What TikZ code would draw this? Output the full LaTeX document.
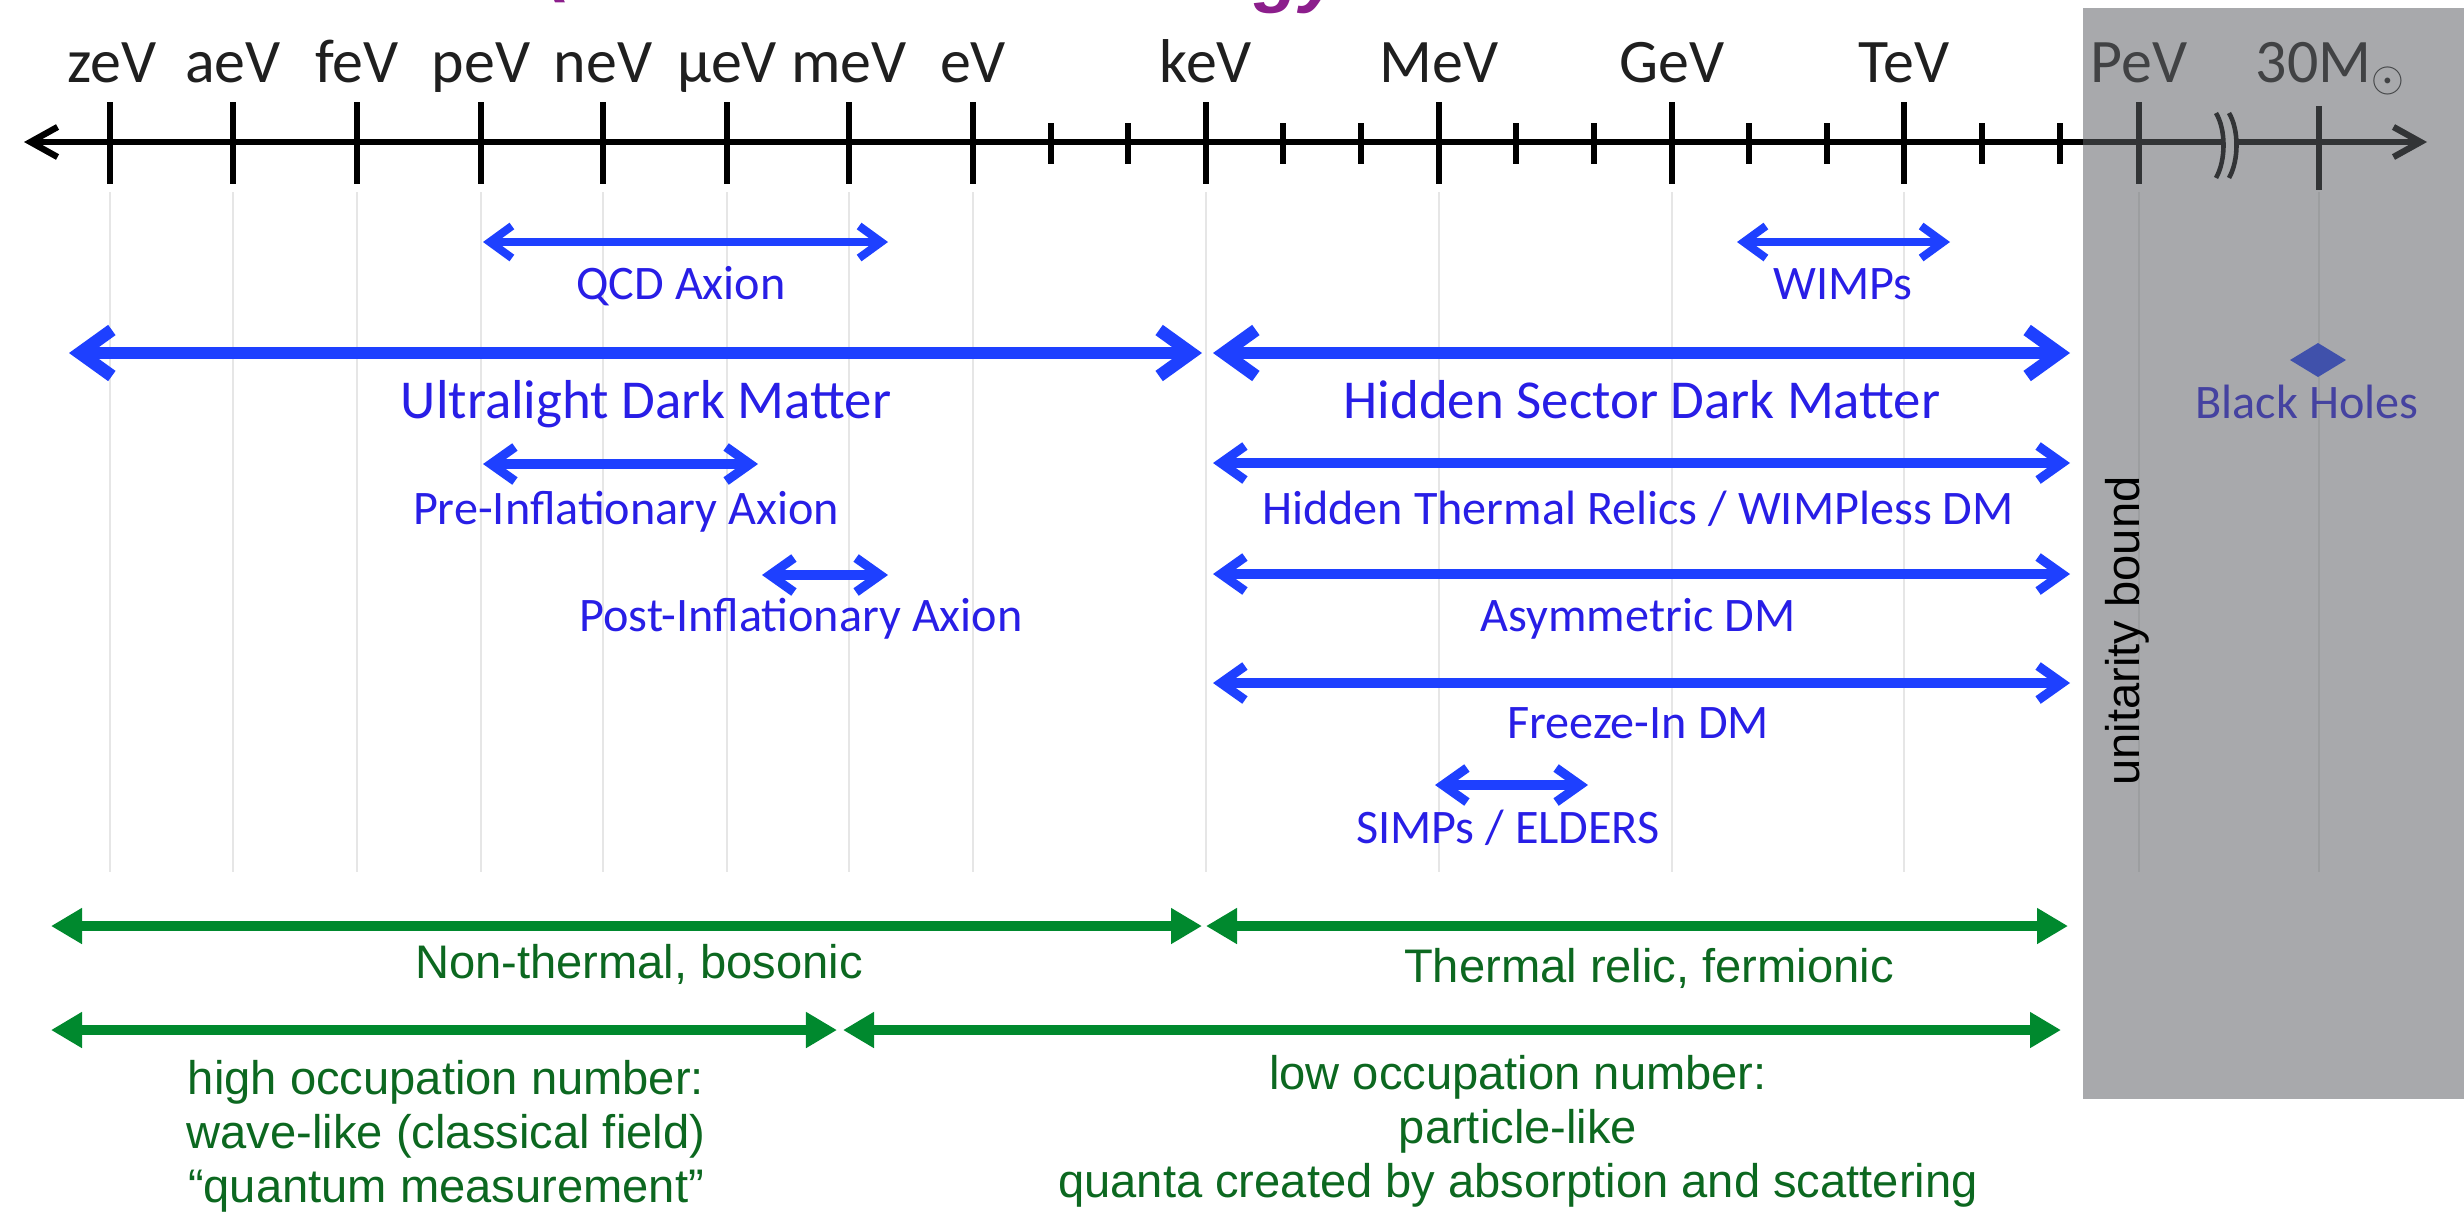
\documentclass[tikz,border=0pt]{standalone}
\usepackage{fontspec}
\setmainfont{Carlito}
\newfontfamily\arialf{Liberation Sans}
\usetikzlibrary{arrows.meta}
\definecolor{blarrow}{RGB}{30,64,255}
\definecolor{bltext}{RGB}{40,30,230}
\definecolor{grarrow}{RGB}{0,137,46}
\definecolor{grtext}{RGB}{12,104,32}
\definecolor{boxgray}{RGB}{94,97,101}
\definecolor{titlepurple}{RGB}{140,30,140}
\definecolor{gridgray}{RGB}{230,230,230}
\begin{document}
\begin{tikzpicture}[x=0.01cm, y=-0.01cm,
  axlab/.style={font=\fontsize{17.6}{20}\selectfont, text=black!88, inner sep=0, anchor=base},
  bsmall/.style={font=\fontsize{13.7}{16}\selectfont, text=bltext, inner sep=0, anchor=base},
  bbig/.style={font=\fontsize{15.6}{18}\selectfont, text=bltext, inner sep=0, anchor=base},
  glab/.style={font=\arialf\fontsize{13.4}{15.3}\selectfont, text=grtext, inner sep=0, anchor=base, align=center},
  titlefrag/.style={font=\arialf\bfseries\itshape\fontsize{21}{24}\selectfont, text=titlepurple, inner sep=0, anchor=base},
  axisline/.style={draw=black, line width=1.8pt, {Straight Barb[length=0.27cm,width=0.30cm]}-{Straight Barb[length=0.27cm,width=0.30cm]}},
  majtick/.style={draw=black, line width=1.7pt},
  mintick/.style={draw=black, line width=1.5pt},
  gridln/.style={draw=gridgray, line width=0.8pt},
  bigarr/.style={draw=blarrow, line width=3.6pt, {Straight Barb[length=0.32cm,width=0.46cm]}-{Straight Barb[length=0.32cm,width=0.46cm]}},
  thinarr/.style={draw=blarrow, line width=2.3pt, {Straight Barb[length=0.22cm,width=0.32cm]}-{Straight Barb[length=0.22cm,width=0.32cm]}},
  midarr/.style={draw=blarrow, line width=2.6pt, {Straight Barb[length=0.24cm,width=0.34cm]}-{Straight Barb[length=0.24cm,width=0.34cm]}},
  grarr/.style={draw=grarrow, line width=3.1pt, {Triangle[length=0.31cm,width=0.34cm]}-{Triangle[length=0.31cm,width=0.34cm]}},
  unitlab/.style={font=\arialf\fontsize{13.4}{16}\selectfont, text=black, inner sep=0, anchor=base, rotate=90}
]
\useasboundingbox (0,0) rectangle (2464,1211);
\clip (0,0) rectangle (2464,1211);

% title fragments (cut off at the top)
\node[titlefrag] (tparen) at (560,-13) {(};
\node[titlefrag] (tgy) at (1298,-2) {gy};

% grid lines
\foreach \gx in {110,233,357,481,603,727,849,973,1206,1439,1672,1904,2139,2319}
  \draw[gridln] (\gx,192) -- (\gx,872);

% axis
\coordinate (axL) at (24,142);
\coordinate (axR) at (2427,142);
\draw[axisline] (axL) -- (axR);
\foreach \gx in {110,233,357,481,603,727,849,973,1206,1439,1672,1904,2139}
  \draw[majtick] (\gx,102) -- (\gx,184);
\draw[majtick] (2319,106) -- (2319,190);
\foreach \gx in {1051,1128,1283,1361,1516,1594,1749,1827,1982,2060}
  \draw[mintick] (\gx,123) -- (\gx,164);
% axis break
\fill[white] (2216,113) .. controls (2226,130) and (2226,160) .. (2216,178) -- (2229,178) .. controls (2239,160) and (2239,130) .. (2229,113) -- cycle;
\draw[black, line width=1.3pt] (2216,113) .. controls (2226,130) and (2226,160) .. (2216,178);
\draw[black, line width=1.3pt] (2229,113) .. controls (2239,130) and (2239,160) .. (2229,178);

% axis labels
\node[axlab] (zev) at (112,82) {zeV};
\node[axlab] (aev) at (233,82) {aeV};
\node[axlab] (fev) at (357,82) {feV};
\node[axlab] (pev) at (481,82) {peV};
\node[axlab] (nev) at (603,82) {neV};
\node[axlab] (muev) at (727,82) {µeV};
\node[axlab] (mev) at (849,82) {meV};
\node[axlab] (ev) at (973,82) {eV};
\node[axlab] (kev) at (1206,82) {keV};
\node[axlab] (MeV) at (1439,82) {MeV};
\node[axlab] (GeV) at (1672,82) {GeV};
\node[axlab] (TeV) at (1904,82) {TeV};
\node[axlab] (PeV) at (2139,82) {PeV};
\node[axlab] (msun) at (2331,82) {30M$_{\odot}$};

% blue ranges
\coordinate (qcdL) at (483,242); \coordinate (qcdR) at (888,242);
\draw[thinarr] (qcdL) -- (qcdR);
\node[bsmall] (qcd) at (681,299) {QCD Axion};

\coordinate (ulL) at (69,353); \coordinate (ulR) at (1202,353);
\draw[bigarr] (ulL) -- (ulR);
\node[bbig] (ul) at (646,418) {Ultralight Dark Matter};

\coordinate (preL) at (483,464); \coordinate (preR) at (758,464);
\draw[midarr] (preL) -- (preR);
\node[bsmall] (pre) at (626,524) {Pre-Inflationary Axion};

\coordinate (postL) at (762,575); \coordinate (postR) at (888,575);
\draw[midarr] (postL) -- (postR);
\node[bsmall] (post) at (801,631) {Post-Inflationary Axion};

\coordinate (wimpL) at (1737,242); \coordinate (wimpR) at (1950,242);
\draw[thinarr] (wimpL) -- (wimpR);
\node[bsmall] (wimp) at (1843,299) {WIMPs};

\coordinate (hsL) at (1213,353); \coordinate (hsR) at (2070,353);
\draw[bigarr] (hsL) -- (hsR);
\node[bbig] (hs) at (1642,418) {Hidden Sector Dark Matter};

\coordinate (htrL) at (1213,463); \coordinate (htrR) at (2070,463);
\draw[midarr] (htrL) -- (htrR);
\node[bsmall] (htr) at (1638,524) {Hidden Thermal Relics / WIMPless DM};

\coordinate (asyL) at (1213,574); \coordinate (asyR) at (2070,574);
\draw[midarr] (asyL) -- (asyR);
\node[bsmall] (asy) at (1638,631) {Asymmetric DM};

\coordinate (frzL) at (1213,683); \coordinate (frzR) at (2070,683);
\draw[midarr] (frzL) -- (frzR);
\node[bsmall] (frz) at (1638,738) {Freeze-In DM};

\coordinate (simpL) at (1435,785); \coordinate (simpR) at (1588,785);
\draw[midarr] (simpL) -- (simpR);
\node[bsmall] (simp) at (1508,843) {SIMPs / ELDERS};

% black holes
\fill[blarrow] (2290,360) -- (2318,343) -- (2346,360) -- (2318,377) -- cycle;
\node[bsmall] (bh) at (2307,418) {Black Holes};

% gray overlay
\fill[boxgray, fill opacity=0.54] (2083,8) rectangle (2464,1099);
\node[unitlab] (unit) at (2139,631) {unitarity bound};

% green ranges
\coordinate (ntL) at (51,926); \coordinate (ntR) at (1202,926);
\draw[grarr] (ntL) -- (ntR);
\node[glab] (nt) at (639,978) {Non-thermal, bosonic};

\coordinate (trL) at (1206,926); \coordinate (trR) at (2068,926);
\draw[grarr] (trL) -- (trR);
\node[glab] (tr) at (1649,982) {Thermal relic, fermionic};

\coordinate (hiL) at (51,1030); \coordinate (hiR) at (837,1030);
\draw[grarr] (hiL) -- (hiR);
\node[glab] (hi) at (446,1202) {high occupation number:\\wave-like (classical field)\\“quantum measurement”};

\coordinate (loL) at (843,1030); \coordinate (loR) at (2061,1030);
\draw[grarr] (loL) -- (loR);
\node[glab] (lo) at (1518,1197) {low occupation number:\\particle-like\\quanta created by absorption and scattering};
\end{tikzpicture}
\end{document}
